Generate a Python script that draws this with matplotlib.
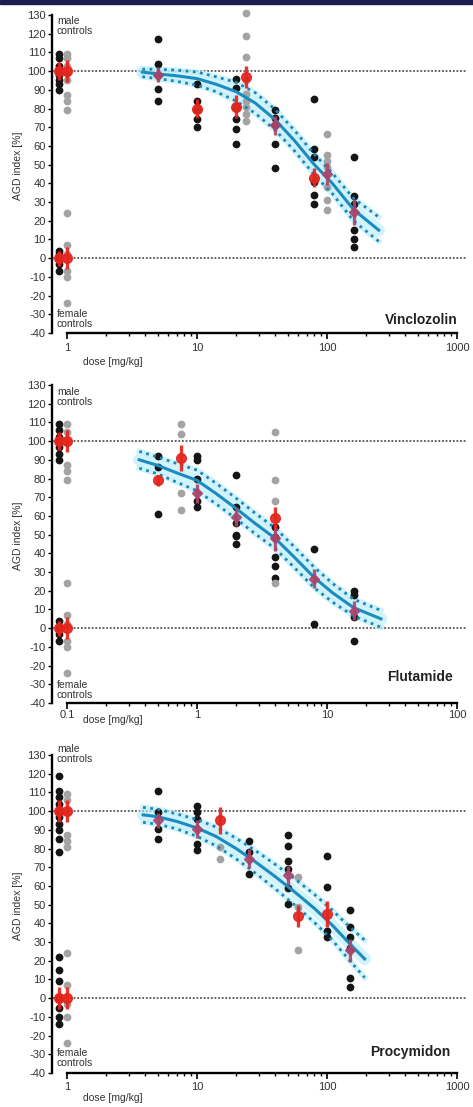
import matplotlib
matplotlib.use("Agg")
import matplotlib.pyplot as plt
from matplotlib.ticker import FixedLocator, NullFormatter
from matplotlib.patches import Rectangle

plt.rcParams['font.family'] = ['Liberation Sans', 'DejaVu Sans']
plt.rcParams['axes.unicode_minus'] = False

# ---------------- Vinclozolin ----------------
vin_black_dose = [0.87, 0.87, 5, 10, 20, 40, 80, 160]
vin_black_vals = [[109, 107, 103, 100, 98, 95, 93, 90],
                  [4, 2, 0, -3, -7],
                  [117, 104, 98, 90.5, 84],
                  [93, 84, 79, 74.5, 70],
                  [96, 91, 81, 74.5, 69, 61],
                  [79, 75, 71, 61, 48],
                  [85, 58.5, 54, 40.6, 34, 29],
                  [54, 33.5, 29, 15, 10, 6]]
vin_grey_dose = [1.0, 1.0, 24, 100]
vin_grey_vals = [[109, 107, 103, 99, 95, 87, 84, 79],
                 [24, 7, 2, -7, -10, -24],
                 [131, 119, 107.5, 95, 88, 84, 81, 77, 73.6],
                 [66.5, 55, 52, 48.6, 38, 31, 25.5]]
vin_red_dose = [0.87, 1.0, 0.87, 1.0, 10, 20, 24, 80]
vin_red_mean = [100, 100, 0, 0, 80, 81, 97, 43]
vin_red_sd = [5, 6, 4, 6, 5, 6, 6, 5]
vin_mauve_dose = [5, 40, 100, 160]
vin_mauve_mean = [98, 71, 45, 24.6]
vin_mauve_sd = [4, 5, 6, 7]
vin_fit_dose = [3.8, 5, 7, 10, 14, 20, 28, 40, 56, 80, 110, 160, 250]
vin_fit = [99.5, 98.5, 97.5, 96, 93, 89, 83, 74, 63, 50, 40, 26, 15]
vin_fit_upper = [101, 101, 100.5, 99.5, 97, 94, 88.5, 79.5, 68.5, 55.5, 45.5, 32, 22]
vin_fit_lower = [97, 96, 94.5, 92.5, 89, 84, 77.5, 68.5, 57.5, 44.5, 34.5, 20, 9]

# ---------------- Flutamide ----------------
flu_black_dose = [0.087, 0.087, 0.5, 1, 2, 4, 8, 16]
flu_black_vals = [[109, 106, 102, 100, 97, 93, 90],
                  [4, 0, -3, -7],
                  [92, 86, 61],
                  [92, 90, 80, 68, 64.7],
                  [82, 64.7, 56, 50, 49.5, 45],
                  [54, 48.6, 38, 33.5, 27],
                  [42.4, 2.3],
                  [20, 18, 6, -6.6]]
flu_grey_dose = [0.1, 0.1, 0.75, 4]
flu_grey_vals = [[109, 105, 100, 87, 84, 79],
                 [24, 7, 2, -7, -10, -24],
                 [109, 104, 72, 63],
                 [105, 79, 68, 24]]
flu_red_dose = [0.087, 0.1, 0.087, 0.1, 0.5, 0.75, 4]
flu_red_mean = [100, 100, 0, 0, 79, 91, 59]
flu_red_sd = [5, 6, 4, 6, 3, 7, 6]
flu_mauve_dose = [1, 2, 4, 8, 16]
flu_mauve_mean = [72, 59.4, 48, 26.4, 9.4]
flu_mauve_sd = [5, 5, 7, 5, 5]
flu_fit_dose = [0.36, 0.5, 0.7, 1, 1.4, 2, 2.8, 4, 5.6, 8, 11, 16, 26]
flu_fit = [90, 87, 83, 79, 72, 64, 56, 48, 38, 27, 19, 11, 5]
flu_fit_upper = [94.5, 91.5, 88, 84.5, 77.5, 69.5, 61.5, 53.5, 43.5, 32.5, 24, 15.5, 9.5]
flu_fit_lower = [85.5, 82.5, 78, 73.5, 66.5, 58.5, 50.5, 42.5, 32.5, 21.5, 14, 6.5, 0.5]

# ---------------- Procymidon ----------------
pro_black_dose = [0.87, 0.87, 5, 10, 25, 50, 100, 150]
pro_black_vals = [[119, 111, 107.5, 104, 100, 97, 93, 90, 85, 78],
                  [22, 15, 9.4, 0, -5, -10, -14],
                  [111, 99.5, 90.5, 85],
                  [103, 99.5, 96, 82.5, 79],
                  [84, 78, 66.5],
                  [87, 81.6, 73.6, 69, 59, 50.4],
                  [75.8, 59.4, 36, 32.6],
                  [47, 38, 32.6, 27, 11, 6]]
pro_grey_dose = [1.0, 1.0, 15, 60]
pro_grey_vals = [[109, 106, 100, 87, 84, 81],
                 [24, 7, -3, -10, -24],
                 [81, 74.5],
                 [64.7, 48.6, 25.5]]
pro_red_dose = [0.87, 1.0, 0.87, 1.0, 15, 60, 100]
pro_red_mean = [100, 100, 0, 0, 95, 44, 45]
pro_red_sd = [6, 6, 6, 6, 7, 6, 7]
pro_mauve_dose = [5, 10, 25, 50, 150]
pro_mauve_mean = [95, 90.5, 74.5, 65.6, 25.5]
pro_mauve_sd = [4, 5, 5, 5, 6]
pro_fit_dose = [3.85, 5, 7, 10, 14, 20, 28, 40, 56, 80, 110, 150, 195]
pro_fit = [98, 97, 94.5, 91, 86.5, 80, 73, 65, 57, 48, 39, 29, 21]
pro_fit_upper = [102, 101, 98.5, 95.5, 91.5, 85.5, 79, 71.5, 64, 55.5, 47, 38, 31]
pro_fit_lower = [94, 93, 90.5, 86.5, 81.5, 74.5, 67, 58.5, 50, 40.5, 31, 20, 11]

compounds = ["Vinclozolin", "Flutamide", "Procymidon"]
x_ticks = [[1, 10, 100, 1000], [0.1, 1, 10, 100], [1, 10, 100, 1000]]
x_ticklabels = [["1", "10", "100", "1000"], ["0.1", "1", "10", "100"],
                ["1", "10", "100", "1000"]]
y_ticks = list(range(-40, 131, 10))

panels = [
    dict(bd=vin_black_dose, bv=vin_black_vals, gd=vin_grey_dose, gv=vin_grey_vals,
         rd=vin_red_dose, rm=vin_red_mean, rs=vin_red_sd,
         md=vin_mauve_dose, mm=vin_mauve_mean, ms=vin_mauve_sd,
         fd=vin_fit_dose, f=vin_fit, fu=vin_fit_upper, fl=vin_fit_lower),
    dict(bd=flu_black_dose, bv=flu_black_vals, gd=flu_grey_dose, gv=flu_grey_vals,
         rd=flu_red_dose, rm=flu_red_mean, rs=flu_red_sd,
         md=flu_mauve_dose, mm=flu_mauve_mean, ms=flu_mauve_sd,
         fd=flu_fit_dose, f=flu_fit, fu=flu_fit_upper, fl=flu_fit_lower),
    dict(bd=pro_black_dose, bv=pro_black_vals, gd=pro_grey_dose, gv=pro_grey_vals,
         rd=pro_red_dose, rm=pro_red_mean, rs=pro_red_sd,
         md=pro_mauve_dose, mm=pro_mauve_mean, ms=pro_mauve_sd,
         fd=pro_fit_dose, f=pro_fit, fu=pro_fit_upper, fl=pro_fit_lower),
]

W, H = 473, 1107
fig = plt.figure(figsize=(W / 100, H / 100), dpi=100)
fig.add_artist(Rectangle((0, 1 - 4 / H), 1, 4 / H, transform=fig.transFigure,
                         color='#1c1c50', zorder=10))

ax_left, ax_right = 52, 467
tops = [15, 385, 755]
bottoms = [333, 703, 1073]
male_y = [124, 123.5, 130.5]
female_y = [-32.5, -33, -32]
name_pos = [(0.978, -33), (0.966, -26), (0.959, -29)]
xlabel_off = [29, 17, 25]
tick_pad = [3.5, 1.0, 2.5]

for i, p in enumerate(panels):
    top, bot = tops[i], bottoms[i]
    ax = fig.add_axes([ax_left / W, 1 - bot / H, (ax_right - ax_left) / W, (bot - top) / H])
    scale = x_ticks[i][0]
    ax.set_xscale('log')
    ax.set_xlim(scale * 10 ** -0.115, scale * 10 ** 3.077)
    ax.set_ylim(-40, 130)
    for s in ['top', 'right']:
        ax.spines[s].set_visible(False)
    ax.spines['left'].set_bounds(-40, 130)
    ax.spines['bottom'].set_bounds(scale, scale * 1000)
    ax.spines['left'].set_linewidth(1.7)
    ax.spines['bottom'].set_linewidth(1.7)
    ax.set_yticks(y_ticks)
    ax.set_yticklabels([str(v) for v in y_ticks])
    ax.xaxis.set_major_locator(FixedLocator(x_ticks[i]))
    ax.set_xticklabels(x_ticklabels[i])
    minors = [scale * 10 ** d * k for d in range(3) for k in range(2, 10)]
    ax.xaxis.set_minor_locator(FixedLocator(minors))
    ax.xaxis.set_minor_formatter(NullFormatter())
    ax.tick_params(axis='y', direction='out', length=3, width=1, labelsize=8,
                   labelcolor='#333333', pad=1.5)
    ax.tick_params(axis='x', which='major', direction='out', length=4, width=1.2,
                   labelsize=8, labelcolor='#333333', pad=tick_pad[i])
    ax.tick_params(axis='x', which='minor', direction='out', length=2, width=1)

    # reference lines
    for yv in (100, 0):
        ax.axhline(yv, color='#555555', lw=1.3, ls=(0, (1, 1)), zorder=1)

    # individual animals
    for d, vals in zip(p['bd'], p['bv']):
        ax.plot([d] * len(vals), vals, 'o', ms=5.6, color='#151515', mec='none',
                zorder=3, clip_on=False)
    for d, vals in zip(p['gd'], p['gv']):
        ax.plot([d] * len(vals), vals, 'o', ms=5.6, color='#a3a3a3', mec='none',
                zorder=3, clip_on=False)

    # fit with confidence band
    ax.plot(p['fd'], p['f'], color='#aeeaf8', lw=9, alpha=0.55, zorder=2,
            solid_capstyle='round')
    ax.plot(p['fd'], p['fu'], color='#bdeff9', lw=4, alpha=0.7, zorder=2)
    ax.plot(p['fd'], p['fl'], color='#bdeff9', lw=4, alpha=0.7, zorder=2)
    ax.plot(p['fd'], p['fu'], color='#1c86b8', lw=2, ls=(0, (1, 1.6)), zorder=4)
    ax.plot(p['fd'], p['fl'], color='#1c86b8', lw=2, ls=(0, (1, 1.6)), zorder=4)
    ax.plot(p['fd'], p['f'], color='#1a8cbf', lw=2.2, zorder=4)

    # group means
    ax.errorbar(p['md'], p['mm'], yerr=p['ms'], fmt='D', ms=5.5, color='#a8456c',
                mec='#a8456c', ecolor='#a8456c', elinewidth=2.4, capsize=0,
                zorder=5, alpha=0.9)
    ax.errorbar(p['rd'], p['rm'], yerr=p['rs'], fmt='o', ms=7, color='#e3261f',
                mec='#e3261f', ecolor='#e3261f', elinewidth=2.4, capsize=0,
                zorder=5, alpha=0.92)

    # annotations
    ax.text(0.012, male_y[i], "male\ncontrols", transform=ax.get_yaxis_transform(),
            fontsize=7.5, color='#333333', va='center', ha='left', linespacing=1.05)
    ax.text(0.012, female_y[i], "female\ncontrols", transform=ax.get_yaxis_transform(),
            fontsize=7.5, color='#333333', va='center', ha='left', linespacing=1.05)
    nx, ny = name_pos[i]
    ax.text(nx, ny, compounds[i], transform=ax.get_yaxis_transform(),
            fontsize=10, fontweight='bold', color='#222222', ha='right', va='center')
    ax.text((113 - ax_left) / (ax_right - ax_left), -xlabel_off[i] / (bot - top),
            "dose [mg/kg]", transform=ax.transAxes, fontsize=7.5, color='#333333',
            ha='center', va='center')
    fig.text(18 / W, 1 - ((top + bot) / 2 - 8) / H, "AGD index [%]", rotation=90,
             fontsize=7.5, color='#333333', ha='center', va='center')

fig.savefig("out.png", dpi=100)
